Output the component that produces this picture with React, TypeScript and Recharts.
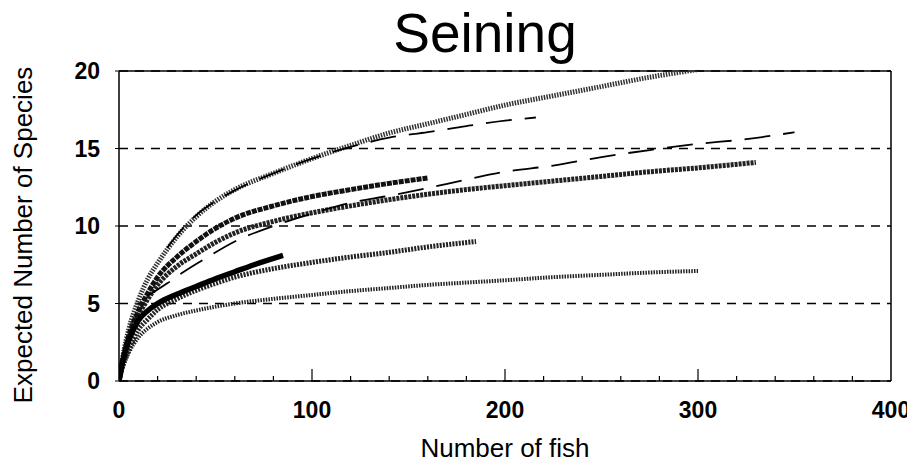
import React from "react";
import {
  LineChart,
  Line,
  XAxis,
  YAxis,
  CartesianGrid,
  ReferenceLine,
} from "recharts";

// rarefaction curves
const fishA = [0, 2, 5, 10, 15, 20, 30, 40, 50, 60, 80, 100, 120, 140, 160, 180, 200, 225, 250, 275, 300];
const speciesA = [0, 1.6, 3.3, 5.2, 6.6, 7.6, 9.3, 10.6, 11.6, 12.35, 13.4, 14.35, 15.2, 16.0, 16.6, 17.2, 17.8, 18.4, 19.0, 19.6, 20.1];

const fishB = [0, 2, 5, 10, 15, 20, 30, 40, 50, 60, 80, 100, 120, 140, 160];
const speciesB = [0, 1.4, 2.9, 4.5, 5.7, 6.7, 8.0, 9.0, 9.85, 10.5, 11.3, 11.9, 12.35, 12.75, 13.1];

const fishC = [0, 2, 5, 10, 15, 20, 30, 40, 50, 60, 80, 100, 120, 140, 160, 180, 200, 225, 250, 275, 300, 330];
const speciesC = [0, 1.3, 2.7, 4.2, 5.3, 6.2, 7.4, 8.2, 8.95, 9.55, 10.3, 10.85, 11.3, 11.7, 12.05, 12.35, 12.6, 12.9, 13.2, 13.5, 13.75, 14.1];

const fishD = [0, 2, 5, 10, 15, 20, 30, 40, 50, 60, 70, 85];
const speciesD = [0, 1.3, 2.6, 3.9, 4.55, 5.0, 5.6, 6.1, 6.6, 7.05, 7.5, 8.1];

const fishE = [0, 2, 5, 10, 15, 20, 30, 40, 50, 60, 80, 100, 120, 140, 160, 185];
const speciesE = [0, 1.0, 2.0, 3.3, 4.0, 4.6, 5.3, 5.85, 6.3, 6.7, 7.25, 7.65, 8.0, 8.3, 8.65, 9.0];

const fishF = [0, 2, 5, 10, 15, 20, 30, 40, 50, 60, 80, 100, 120, 140, 160, 180, 200, 225, 250, 275, 300];
const speciesF = [0, 0.9, 1.8, 2.8, 3.4, 3.8, 4.25, 4.55, 4.8, 5.0, 5.3, 5.55, 5.8, 6.0, 6.2, 6.35, 6.5, 6.7, 6.85, 7.0, 7.1];

// fitted (dashed) curves
const fishFit1 = [25, 30, 40, 50, 60, 80, 100, 120, 140, 160, 180, 200, 216];
const speciesFit1 = [8.6, 9.4, 10.7, 11.6, 12.3, 13.4, 14.35, 15.1, 15.7, 16.05, 16.45, 16.8, 17.0];

const fishFit2 = [15, 25, 33, 46, 60, 80, 100, 120, 140, 160, 180, 200, 225, 250, 275, 300, 325, 350];
const speciesFit2 = [5.5, 6.3, 7.0, 8.0, 9.0, 10.0, 10.8, 11.5, 11.95, 12.45, 13.0, 13.5, 13.9, 14.45, 14.9, 15.3, 15.6, 16.05];

const xTicks = [0, 20, 40, 60, 80, 100, 120, 140, 160, 180, 200, 220, 240, 260, 280, 300, 320, 340, 360, 380, 400];
const yTicks = [0, 5, 10, 15, 20];

const zip = (xs: number[], ys: number[]) => xs.map((x, i) => ({ x, y: ys[i] }));

// scanned hatch look: short dashes on a thick stroke
const curves = [
  { pts: zip(fishF, speciesF), color: "#222", width: 4, dash: "1.5 1.2" },
  { pts: zip(fishE, speciesE), color: "#222", width: 5, dash: "2 1.2" },
  { pts: zip(fishC, speciesC), color: "#222", width: 5, dash: "3 1" },
  { pts: zip(fishA, speciesA), color: "#333", width: 5, dash: "1.5 1.2" },
  { pts: zip(fishB, speciesB), color: "#111", width: 5, dash: "5 1" },
  { pts: zip(fishD, speciesD), color: "#000", width: 5.5, dash: undefined },
];
const fits = [zip(fishFit1, speciesFit1), zip(fishFit2, speciesFit2)];

const font = "'Liberation Sans', Arial, sans-serif";

function XTick(props: any) {
  const { x, y, payload } = props;
  const v = payload.value;
  const major = v % 100 === 0;
  const len = v === 0 || v === 400 ? 0 : major ? 12 : 5;
  return (
    <g>
      {len > 0 && <line x1={x} x2={x} y1={y} y2={y - len} stroke="#000" strokeWidth={1.2} />}
      {major && (
        <text x={x} y={y + 37} textAnchor="middle" fontSize={23} fontWeight="bold" fontFamily={font} fill="#000">
          {v}
        </text>
      )}
    </g>
  );
}

export default function App() {
  return (
    <div style={{ position: "relative", width: 899, height: 455, fontFamily: font }}>
      <style>{".recharts-surface{overflow:visible}"}</style>
      <div
        style={{
          position: "absolute",
          left: 277,
          width: 400,
          top: -2,
          textAlign: "center",
          fontSize: 55,
          lineHeight: "55px",
        }}
      >
        Seining
      </div>
      <div
        style={{
          position: "absolute",
          left: 15 - 200,
          top: 227 - 15,
          width: 400,
          textAlign: "center",
          fontSize: 26,
          lineHeight: "30px",
          transform: "rotate(-90deg)",
        }}
      >
        Expected Number of Species
      </div>
      <div
        style={{
          position: "absolute",
          left: 497 - 200,
          top: 427,
          width: 400,
          textAlign: "center",
          fontSize: 26,
          lineHeight: "26px",
        }}
      >
        Number of fish
      </div>
      <LineChart width={899} height={455} margin={{ top: 63, right: 16, bottom: 0, left: 0 }}>
        <CartesianGrid vertical={false} stroke="#000" strokeWidth={1.5} strokeDasharray="9 7" />
        <XAxis
          type="number"
          dataKey="x"
          domain={[0, 400]}
          ticks={xTicks}
          interval={0}
          height={82}
          tickSize={0}
          tickMargin={0}
          tick={<XTick />}
          axisLine={{ stroke: "#000", strokeWidth: 1.5 }}
          allowDataOverflow
        />
        <YAxis
          type="number"
          domain={[0, 20]}
          ticks={yTicks}
          width={111}
          tickSize={4}
          tickMargin={15}
          tickLine={{ stroke: "#000" }}
          axisLine={{ stroke: "#000", strokeWidth: 1.5 }}
          tick={{ fill: "#000", fontSize: 23, fontWeight: "bold", fontFamily: font }}
          allowDataOverflow
        />
        <ReferenceLine y={20} stroke="#000" strokeWidth={1.5} />
        <ReferenceLine x={400} stroke="#000" strokeWidth={1.5} />
        {curves.map((c, i) => (
          <Line
            key={"c" + i}
            data={c.pts}
            dataKey="y"
            type="monotone"
            stroke={c.color}
            strokeWidth={c.width}
            strokeDasharray={c.dash}
            dot={false}
            isAnimationActive={false}
          />
        ))}
        {fits.map((f, i) => (
          <Line
            key={"f" + i}
            data={f}
            dataKey="y"
            type="monotone"
            stroke="#000"
            strokeWidth={1.8}
            strokeDasharray="26 13"
            dot={false}
            isAnimationActive={false}
          />
        ))}
      </LineChart>
    </div>
  );
}
